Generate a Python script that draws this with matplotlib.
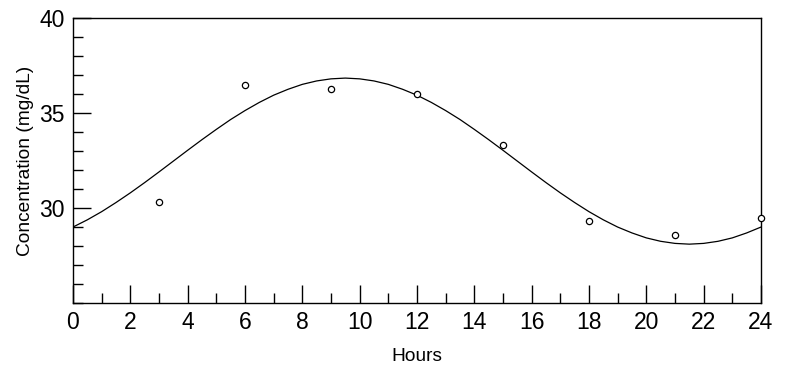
import numpy as np
import matplotlib.pyplot as plt
from matplotlib.ticker import MultipleLocator

plt.rcParams['font.family'] = ['Liberation Sans', 'DejaVu Sans']

# measured concentrations
hours = [3, 6, 9, 12, 15, 18, 21, 24]
conc = [30.3, 36.47, 36.26, 36.0, 33.3, 29.3, 28.6, 29.5]

# fitted curve, every half hour
fit_hours = [i / 2 for i in range(0, 49)]
fit_conc = [29.00, 29.38, 29.81, 30.29, 30.80, 31.34, 31.90, 32.47, 33.04,
            33.60, 34.14, 34.66, 35.13, 35.56, 35.94, 36.25, 36.51, 36.69,
            36.80, 36.84, 36.80, 36.69, 36.51, 36.25, 35.94, 35.56, 35.13,
            34.66, 34.14, 33.60, 33.04, 32.47, 31.90, 31.34, 30.80, 30.29,
            29.81, 29.38, 29.00, 28.69, 28.43, 28.25, 28.14, 28.10, 28.14,
            28.25, 28.43, 28.69, 29.00]

fig = plt.figure(figsize=(7.89, 3.76), dpi=100)
ax = fig.add_axes([0.0925, 0.194, 0.872, 0.758])

ax.plot(fit_hours, fit_conc, color='black', lw=0.9)
ax.plot(hours, conc, 'o', mfc='white', mec='black', ms=4.5, mew=0.9,
        clip_on=False, zorder=3)

ax.set_xlim(0, 24)
ax.set_ylim(25, 40)
ax.xaxis.set_major_locator(MultipleLocator(2))
ax.xaxis.set_minor_locator(MultipleLocator(1))
ax.set_yticks([30, 35, 40])
ax.yaxis.set_minor_locator(MultipleLocator(1))
ax.tick_params(which='major', direction='in', length=13, width=1,
               labelsize=16.5, top=False, right=False, pad=6)
ax.tick_params(which='minor', direction='in', length=7, width=1,
               top=False, right=False)
for s in ax.spines.values():
    s.set_linewidth(1)

ax.set_xlabel('Hours', fontsize=13.8, labelpad=10)
ax.set_ylabel('Concentration (mg/dL)', fontsize=13.8, labelpad=4)

fig.savefig('out.png', dpi=100)
